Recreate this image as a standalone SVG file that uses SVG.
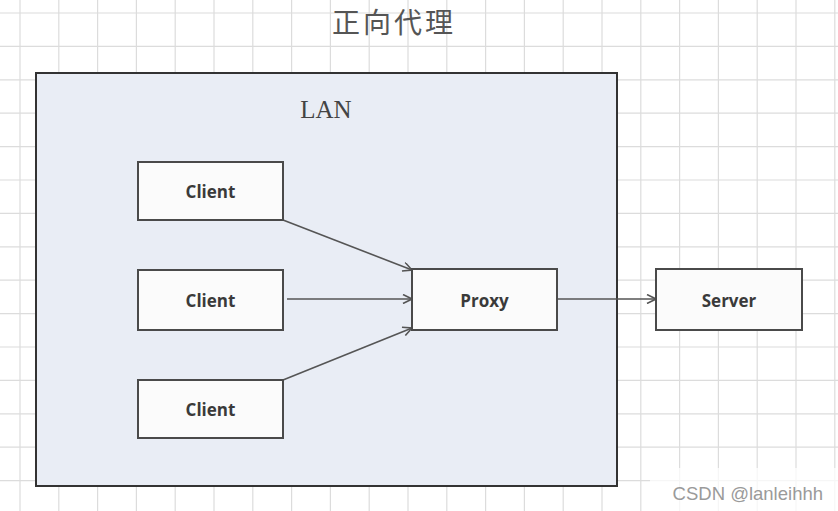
<svg xmlns="http://www.w3.org/2000/svg" width="838" height="511" viewBox="0 0 838 511">
<style>
.grid line{stroke:#dcdcdc;stroke-width:1.2}
.node rect{fill:#fbfbfb;stroke:#4a4a4a;stroke-width:2}
.node text{font-family:"Open Sans","Liberation Sans",sans-serif;font-weight:bold;font-size:17px;fill:#3a3a3a;text-anchor:middle;dominant-baseline:central}
.conn line{stroke:#555;stroke-width:1.6;fill:none}
</style>
<defs>
<marker id="arr" viewBox="0 0 10 10" refX="10" refY="5" markerWidth="10" markerHeight="10" markerUnits="userSpaceOnUse" orient="auto">
<path d="M1,0.5 L10,5 L1,9.5" fill="none" stroke="#555" stroke-width="1.6"/>
</marker>
</defs>
<rect width="838" height="511" fill="#ffffff"/>
<g class="grid">
<line x1="20" y1="0" x2="20" y2="511"/><line x1="58.8" y1="0" x2="58.8" y2="511"/><line x1="97.6" y1="0" x2="97.6" y2="511"/><line x1="136.4" y1="0" x2="136.4" y2="511"/><line x1="175.2" y1="0" x2="175.2" y2="511"/><line x1="214" y1="0" x2="214" y2="511"/><line x1="252.8" y1="0" x2="252.8" y2="511"/><line x1="291.6" y1="0" x2="291.6" y2="511"/><line x1="330.4" y1="0" x2="330.4" y2="511"/><line x1="369.2" y1="0" x2="369.2" y2="511"/><line x1="408" y1="0" x2="408" y2="511"/><line x1="446.8" y1="0" x2="446.8" y2="511"/><line x1="485.6" y1="0" x2="485.6" y2="511"/><line x1="524.4" y1="0" x2="524.4" y2="511"/><line x1="563.2" y1="0" x2="563.2" y2="511"/><line x1="602" y1="0" x2="602" y2="511"/><line x1="640.8" y1="0" x2="640.8" y2="511"/><line x1="679.6" y1="0" x2="679.6" y2="511"/><line x1="718.4" y1="0" x2="718.4" y2="511"/><line x1="757.2" y1="0" x2="757.2" y2="511"/><line x1="796" y1="0" x2="796" y2="511"/><line x1="834.8" y1="0" x2="834.8" y2="511"/>
<line x1="0" y1="13" x2="838" y2="13"/><line x1="0" y1="46.4" x2="838" y2="46.4"/><line x1="0" y1="79.8" x2="838" y2="79.8"/><line x1="0" y1="113.2" x2="838" y2="113.2"/><line x1="0" y1="146.6" x2="838" y2="146.6"/><line x1="0" y1="180" x2="838" y2="180"/><line x1="0" y1="213.4" x2="838" y2="213.4"/><line x1="0" y1="246.8" x2="838" y2="246.8"/><line x1="0" y1="280.2" x2="838" y2="280.2"/><line x1="0" y1="313.6" x2="838" y2="313.6"/><line x1="0" y1="347" x2="838" y2="347"/><line x1="0" y1="380.4" x2="838" y2="380.4"/><line x1="0" y1="413.8" x2="838" y2="413.8"/><line x1="0" y1="447.2" x2="838" y2="447.2"/><line x1="0" y1="480.6" x2="838" y2="480.6"/>
</g>
<rect x="650" y="468" width="188" height="43" fill="#ffffff" opacity="0.75"/>
<text x="394" y="33" font-family="Noto Sans CJK SC, sans-serif" font-size="28" letter-spacing="3" fill="#555" text-anchor="middle">正向代理</text>
<g id="lan">
<rect x="36" y="73" width="581" height="413" fill="#e9edf5" stroke="#333" stroke-width="2"/>
<text x="326" y="118" font-family="Liberation Serif, serif" font-size="25" fill="#444" text-anchor="middle">LAN</text>
</g>
<g class="conn">
<line x1="283" y1="220" x2="412" y2="270" marker-end="url(#arr)"/>
<line x1="287" y1="299" x2="412" y2="299" marker-end="url(#arr)"/>
<line x1="283" y1="380" x2="412" y2="328" marker-end="url(#arr)"/>
<line x1="557" y1="299" x2="656" y2="299" marker-end="url(#arr)"/>
</g>
<g id="client1" class="node"><rect x="138" y="162" width="145" height="58"/><text x="210.5" y="191">Client</text></g>
<g id="client2" class="node"><rect x="138" y="270" width="145" height="60"/><text x="210.5" y="300">Client</text></g>
<g id="client3" class="node"><rect x="138" y="380" width="145" height="58"/><text x="210.5" y="409">Client</text></g>
<g id="proxy" class="node"><rect x="412" y="269" width="145" height="61"/><text x="484.5" y="300">Proxy</text></g>
<g id="server" class="node"><rect x="656" y="269" width="146" height="61"/><text x="729" y="300">Server</text></g>
<text x="823" y="500" font-family="Liberation Sans, sans-serif" font-size="18.5" fill="#9a9a9a" text-anchor="end">CSDN @lanleihhh</text>
</svg>
